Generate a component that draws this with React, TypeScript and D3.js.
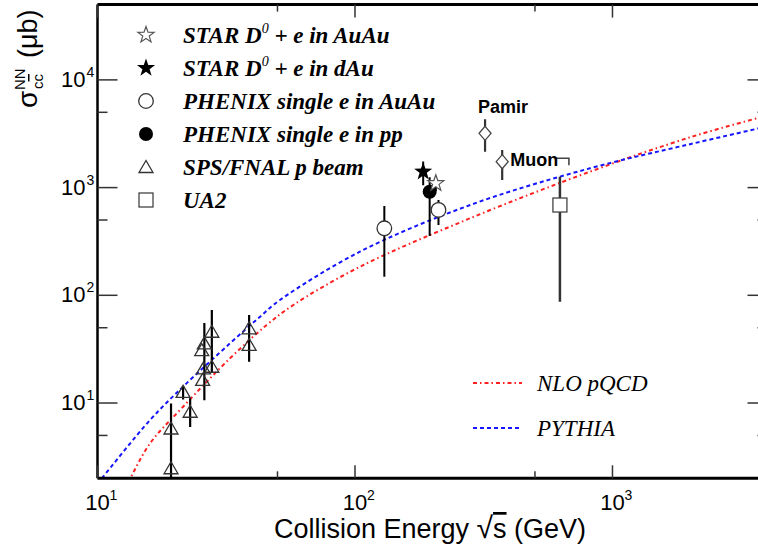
import React from 'react';
import * as d3 from 'd3';

const W = 758;
const H = 546;

// data points: e = sqrt(s) in GeV, v = sigma in microbarn, lo/hi = error bar ends
const starAuAu = [{ e: 206, v: 1096, lo: 930, hi: 1250 }];
const starDAu = [{ e: 184, v: 1405, lo: 1050, hi: 1750 }];
const phenixAuAu = [
    { e: 130, v: 419, lo: 149, hi: 675 },
    { e: 211, v: 620, lo: 450, hi: 767 },
];
const phenixPP = [{ e: 195, v: 916, lo: 355, hi: 1250 }];
const spsFnal = [
    { e: 19.3, v: 5.8, lo: 1.5, hi: 9.9 },
    { e: 19.3, v: 2.48, lo: 2.48, hi: 2.48 },
    { e: 21.5, v: 12.7, lo: 10.8, hi: 14.5 },
    { e: 22.9, v: 8.3, lo: 6.0, hi: 11.1 },
    { e: 26.0, v: 35.8, lo: 10.6, hi: 55.3 },
    { e: 25.4, v: 31.0, lo: 31.0, hi: 31.0 },
    { e: 25.8, v: 21.0, lo: 21.0, hi: 21.0 },
    { e: 25.6, v: 16.4, lo: 16.4, hi: 16.4 },
    { e: 27.8, v: 45.9, lo: 19.0, hi: 73.1 },
    { e: 27.8, v: 21.7, lo: 21.7, hi: 21.7 },
    { e: 38.8, v: 49.4, lo: 24.2, hi: 65.5 },
    { e: 38.8, v: 34.6, lo: 34.6, hi: 34.6 },
];
const ua2 = [{ e: 625, v: 689, lo: 87, hi: 1262 }];
const ua2Limit = 1871;
const cosmic = [
    { e: 320, v: 3190, lo: 2155, hi: 4300, name: 'Pamir' },
    { e: 373, v: 1740, lo: 1176, hi: 2235, name: 'Muon' },
];

// theory curves
const nloE = [12.5, 13.4, 16, 21.5, 32.7, 45.4, 57.6, 104.5, 280, 818, 2000, 3670, 4000];
const nloV = [1.49, 2.0, 4.22, 9.24, 26.0, 53.0, 81.3, 184, 519, 1405, 2930, 4430, 4690];
const pythiaE = [10, 10.4, 16, 21.5, 32.7, 42.8, 51.1, 104.5, 280, 818, 2000, 3670, 4000];
const pythiaV = [1.78, 2.0, 6.95, 14.2, 35.8, 63.3, 90.4, 254, 689, 1511, 2530, 3530, 3700];

const xMajor = [10, 100, 1000];
const xMinor = [50, 500];
const xExp = ['1', '2', '3'];
const yMajor = [10, 100, 1000, 10000];
const yMinor = [5, 50, 500, 5000];
const yExp = ['1', '2', '3', '4'];

const legendLabels = [
    ['STAR D', '0', ' + e in AuAu'],
    ['STAR D', '0', ' + e in dAu'],
    ['PHENIX single e in AuAu', '', ''],
    ['PHENIX single e in pp', '', ''],
    ['SPS/FNAL p beam', '', ''],
    ['UA2', '', ''],
];
const legendMarkers = ['openStar', 'star', 'openCircle', 'circle', 'triangle', 'square'];
const curveLabels = ['NLO pQCD', 'PYTHIA'];

const SANS = "'Liberation Sans', Arial, Helvetica, sans-serif";
const SERIF = "'Liberation Serif', 'Times New Roman', serif";

const xScale = d3.scaleLog().domain([10, 4000]).range([97.5, 767.5]);
const yScale = d3.scaleLog().domain([2, 50000]).range([478.3, 4.6]);

const starPath = (R: number) => {
    const pts: string[] = [];
    for (let i = 0; i < 10; i++) {
        const r = i % 2 === 0 ? R : R * 0.4;
        const a = -Math.PI / 2 + (i * Math.PI) / 5;
        pts.push(`${(r * Math.cos(a)).toFixed(2)},${(r * Math.sin(a)).toFixed(2)}`);
    }
    return 'M' + pts.join('L') + 'Z';
};

const Marker = ({ type, x, y }: { type: string; x: number; y: number }) => {
    const t = `translate(${x},${y})`;
    switch (type) {
        case 'openStar':
            return <path transform={t} d={starPath(8.5)} fill='white' stroke='#555' strokeWidth={1.2} />;
        case 'star':
            return <path transform={t} d={starPath(9.5)} fill='black' />;
        case 'openCircle':
            return <circle cx={x} cy={y} r={7.3} fill='white' stroke='#333' strokeWidth={1.3} />;
        case 'circle':
            return <circle cx={x} cy={y} r={7} fill='black' />;
        case 'triangle':
            return <path transform={t} d='M0,-6.5L7,5.5L-7,5.5Z' fill='none' stroke='#333' strokeWidth={1.3} />;
        case 'square':
            return <rect x={x - 7} y={y - 7} width={14} height={14} fill='white' stroke='#444' strokeWidth={1.3} />;
        case 'diamond':
            return <path transform={t} d='M0,-7L6,0L0,7L-6,0Z' fill='white' stroke='#444' strokeWidth={1.3} />;
        default:
            return null;
    }
};

type Pt = { e: number; v: number; lo: number; hi: number };

const ErrBars = ({ data, color = 'black', w = 2 }: { data: Pt[]; color?: string; w?: number }) => (
    <g>
        {data
            .filter(d => d.lo !== d.hi)
            .map((d, i) => (
                <line
                    key={i}
                    x1={xScale(d.e)}
                    x2={xScale(d.e)}
                    y1={yScale(Math.max(d.lo, 1.99))}
                    y2={yScale(d.hi)}
                    stroke={color}
                    strokeWidth={w}
                />
            ))}
    </g>
);

const App = () => {
    const [x0, x1] = xScale.range();
    const [y0, y1] = yScale.range();
    const line = d3
        .line<[number, number]>()
        .x(d => xScale(d[0]))
        .y(d => yScale(d[1]))
        .curve(d3.curveCatmullRom.alpha(0.5));
    const nloPath = line(nloE.map((e, i) => [e, nloV[i]]));
    const pythiaPath = line(pythiaE.map((e, i) => [e, pythiaV[i]]));
    const ua2x = xScale(ua2[0].e);
    const limY = yScale(ua2Limit);

    return (
        <svg width={W} height={H} style={{ position: 'absolute', left: 0, top: 0, background: 'white' }}>
            <defs>
                <clipPath id='plot'>
                    <rect x={x0} y={y1} width={x1 - x0} height={y0 - y1} />
                </clipPath>
            </defs>

            {/* theory curves */}
            <g clipPath='url(#plot)' fill='none' strokeWidth={2}>
                <path d={nloPath ?? ''} stroke='#ff2020' strokeDasharray='4,3,1.5,3' />
                <path d={pythiaPath ?? ''} stroke='#1515ff' strokeDasharray='4,3' />
            </g>

            {/* data */}
            <g clipPath='url(#plot)'>
                <ErrBars data={spsFnal} w={2.2} />
                {spsFnal.map((d, i) => (
                    <Marker key={i} type='triangle' x={xScale(d.e)} y={yScale(d.v)} />
                ))}
                <ErrBars data={ua2} color='#333' w={2.5} />
                <path
                    d={`M${ua2x - 5},${limY}H${ua2x + 9}V${limY + 7}`}
                    fill='none'
                    stroke='#444'
                    strokeWidth={1.6}
                />
                {ua2.map((d, i) => (
                    <Marker key={i} type='square' x={xScale(d.e)} y={yScale(d.v)} />
                ))}
                <ErrBars data={cosmic} color='#333' w={2.2} />
                {cosmic.map((d, i) => (
                    <Marker key={i} type='diamond' x={xScale(d.e)} y={yScale(d.v)} />
                ))}
                <ErrBars data={phenixAuAu} />
                <ErrBars data={phenixPP} />
                <ErrBars data={starAuAu} />
                <ErrBars data={starDAu} />
                {phenixAuAu.map((d, i) => (
                    <Marker key={i} type='openCircle' x={xScale(d.e)} y={yScale(d.v)} />
                ))}
                {phenixPP.map((d, i) => (
                    <Marker key={i} type='circle' x={xScale(d.e)} y={yScale(d.v)} />
                ))}
                {starAuAu.map((d, i) => (
                    <Marker key={i} type='openStar' x={xScale(d.e)} y={yScale(d.v)} />
                ))}
                {starDAu.map((d, i) => (
                    <Marker key={i} type='star' x={xScale(d.e)} y={yScale(d.v)} />
                ))}
            </g>

            {/* cosmic labels */}
            <text x={xScale(cosmic[0].e) - 7} y={yScale(cosmic[0].hi) - 6} fontFamily={SANS} fontWeight='bold' fontSize={18}>
                {cosmic[0].name}
            </text>
            <text x={xScale(cosmic[1].e) + 8} y={yScale(cosmic[1].v) + 4} fontFamily={SANS} fontWeight='bold' fontSize={18}>
                {cosmic[1].name}
            </text>

            {/* frame */}
            <g stroke='black' fill='none'>
                <line x1={x0} x2={x1} y1={y1} y2={y1} strokeWidth={3} />
                <line x1={x0} x2={x1} y1={y0} y2={y0} strokeWidth={3} />
                <line x1={x0} x2={x0} y1={y1} y2={y0} strokeWidth={2.5} />
                <line x1={x1} x2={x1} y1={y1} y2={y0} strokeWidth={2.5} />
            </g>
            <g stroke='#333' strokeWidth={1.5}>
                {xMajor.map(v => (
                    <g key={'xM' + v}>
                        <line x1={xScale(v)} x2={xScale(v)} y1={y0} y2={y0 - 13} />
                        <line x1={xScale(v)} x2={xScale(v)} y1={y1} y2={y1 + 13} />
                    </g>
                ))}
                {xMinor.map(v => (
                    <g key={'xm' + v}>
                        <line x1={xScale(v)} x2={xScale(v)} y1={y0} y2={y0 - 7} />
                        <line x1={xScale(v)} x2={xScale(v)} y1={y1} y2={y1 + 7} />
                    </g>
                ))}
                {yMajor.map(v => (
                    <g key={'yM' + v}>
                        <line x1={x0} x2={x0 + 20} y1={yScale(v)} y2={yScale(v)} />
                        <line x1={x1} x2={x1 - 20} y1={yScale(v)} y2={yScale(v)} />
                    </g>
                ))}
                {yMinor.map(v => (
                    <g key={'ym' + v}>
                        <line x1={x0} x2={x0 + 10} y1={yScale(v)} y2={yScale(v)} />
                        <line x1={x1} x2={x1 - 10} y1={yScale(v)} y2={yScale(v)} />
                    </g>
                ))}
            </g>

            {/* tick labels */}
            <g fontFamily={SANS} fill='black'>
                {yMajor.map((v, i) => (
                    <g key={'yl' + v}>
                        <text x={x0 - 12} y={yScale(v) + 7} fontSize={22} textAnchor='end'>
                            10
                        </text>
                        <text x={x0 - 11} y={yScale(v) - 3} fontSize={14}>
                            {yExp[i]}
                        </text>
                    </g>
                ))}
                {xMajor.map((v, i) => (
                    <g key={'xl' + v}>
                        <text x={xScale(v)} y={510} fontSize={22} textAnchor='middle'>
                            10
                        </text>
                        <text x={xScale(v) + 12} y={500} fontSize={14}>
                            {xExp[i]}
                        </text>
                    </g>
                ))}
            </g>

            {/* axis titles */}
            <text x={430} y={538} fontFamily={SANS} fontSize={27} textAnchor='middle'>
                Collision Energy{' '}
                <tspan fontSize={30}>√</tspan>
                <tspan textDecoration='overline'>s</tspan> (GeV)
            </text>
            <g transform='translate(37,108) rotate(-90)' fontFamily={SANS}>
                <text x={0} y={0} fontSize={28}>
                    σ
                </text>
                <text x={18} y={-12} fontSize={15}>
                    NN
                </text>
                <text x={19} y={6} fontSize={15}>
                    c<tspan textDecoration='overline'>c</tspan>
                </text>
                <text x={50} y={0} fontSize={27}>
                    (μb)
                </text>
            </g>

            {/* legend */}
            {legendLabels.map((lab, i) => {
                const cy = 35 + i * 33;
                return (
                    <g key={'lg' + i}>
                        <Marker type={legendMarkers[i]} x={146} y={cy} />
                        <text x={183} y={cy + 8} fontFamily={SERIF} fontStyle='italic' fontWeight='bold' fontSize={23}>
                            <tspan>{lab[0]}</tspan>
                            {lab[1] && (
                                <tspan dy={-10} fontSize={14} fontWeight='normal'>
                                    {lab[1]}
                                </tspan>
                            )}
                            {lab[2] && <tspan dy={10}>{lab[2]}</tspan>}
                        </text>
                    </g>
                );
            })}
            {curveLabels.map((lab, i) => {
                const cy = 383 + i * 45;
                return (
                    <g key={'cl' + i}>
                        <line
                            x1={473}
                            x2={522}
                            y1={cy}
                            y2={cy}
                            stroke={i === 0 ? '#ff2020' : '#1515ff'}
                            strokeWidth={2}
                            strokeDasharray={i === 0 ? '4,3,1.5,3' : '4,3'}
                        />
                        <text x={537} y={cy + 8} fontFamily={SERIF} fontStyle='italic' fontSize={23}>
                            {lab}
                        </text>
                    </g>
                );
            })}
        </svg>
    );
};

export default App;
